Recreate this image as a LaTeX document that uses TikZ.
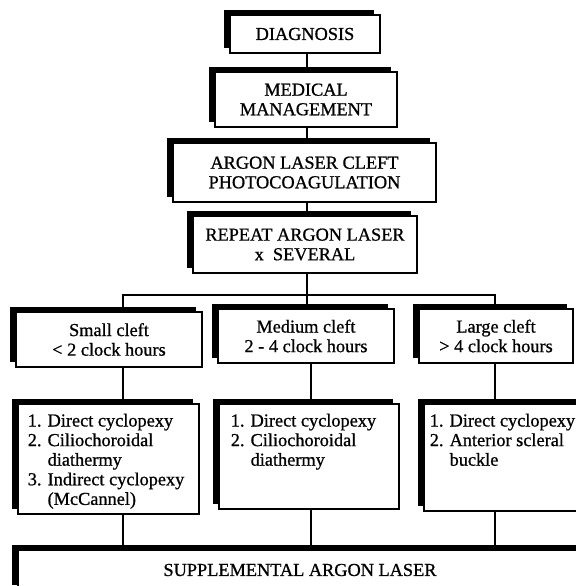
\documentclass[tikz,border=0pt]{standalone}
\usepackage{fontspec}
\setmainfont{Liberation Serif}[UprightFeatures={FakeBold=0.8}]
\usetikzlibrary{shadows}

\begin{document}
\begin{tikzpicture}[
    x=0.5pt, y=-0.5pt,
    box/.style={
      draw,
      fill=white,
      line width=0.8pt,
      inner sep=0pt,
      align=center,
      font=\fontsize{9.15}{9.8}\selectfont,
      general shadow={fill=black, shadow xshift=-2.75pt, shadow yshift=2.5pt}
    },
    listbox/.style={box, anchor=north west, inner ysep=5pt},
    link/.style={line width=0.8pt}
  ]
    \useasboundingbox (0,0) rectangle (576,586);

    % treatment steps
    \node[box, minimum width=75pt, minimum height=19pt] (diag) at (305,34) {DIAGNOSIS};
    \node[box, minimum width=91pt, minimum height=27.5pt] (med) at (306,99.5) {MEDICAL\\MANAGEMENT};
    \node[box, minimum width=131.5pt, minimum height=29.5pt] (argon) at (304.5,172.5) {ARGON LASER CLEFT\\PHOTOCOAGULATION};
    \node[box, minimum width=112pt, minimum height=28.5pt] (rep) at (305,244.5) {REPEAT ARGON LASER\\x\ \ SEVERAL};

    % cleft sizes
    \node[box, minimum width=93pt, minimum height=27.5pt] (small) at (109,339.5) {Small cleft\\< 2 clock hours};
    \node[box, minimum width=88pt, minimum height=27pt] (mid) at (306,336) {Medium cleft\\2 - 4 clock hours};
    \node[box, minimum width=77pt, minimum height=27pt] (large) at (496,336) {Large cleft\\> 4 clock hours};

    % surgery options
    \node[listbox, inner xsep=5pt] (smalllist) at (17,403)
      {\parbox[c][45pt][t]{80.5pt}{\raggedright 1. Direct cyclopexy\\2. Ciliochoroidal\\\phantom{2. }diathermy\\3. Indirect cyclopexy\\\phantom{3. }(McCannel)}};
    \node[listbox, inner xsep=6pt] (midlist) at (218,403)
      {\parbox[c][42.5pt][t]{78pt}{\raggedright 1. Direct cyclopexy\\2. Ciliochoroidal\\\phantom{2. }diathermy}};
    \node[listbox, inner xsep=3pt] (largelist) at (423,403)
      {\parbox[c][43.5pt][t]{75pt}{\raggedright 1. Direct cyclopexy\\2. Anterior scleral\\\phantom{2. }buckle}};

    \node[box, minimum width=282pt, minimum height=20pt] (supp) at (300,570) {SUPPLEMENTAL ARGON LASER};

    \coordinate (spine) at (307,0);
    \coordinate (bus) at (307,295);
    \coordinate (colA) at (123,0);
    \coordinate (colB) at (311,0);
    \coordinate (colC) at (495,0);

    \draw[link] (diag.south -| spine) -- (med.north -| spine);
    \draw[link] (med.south -| spine) -- (argon.north -| spine);
    \draw[link] (argon.south -| spine) -- (rep.north -| spine);
    \draw[link] (rep.south -| spine) -- (mid.north -| spine);
    \draw[link] (small.north -| colA) |- (bus) -| (large.north -| colC);
    \foreach \src/\dst/\col in {small/smalllist/colA, mid/midlist/colB, large/largelist/colC} {
      \draw[link] (\src.south -| \col) -- (\dst.north -| \col);
      \draw[link] (\dst.south -| \col) -- (supp.north -| \col);
    }
  \end{tikzpicture}
\end{document}
